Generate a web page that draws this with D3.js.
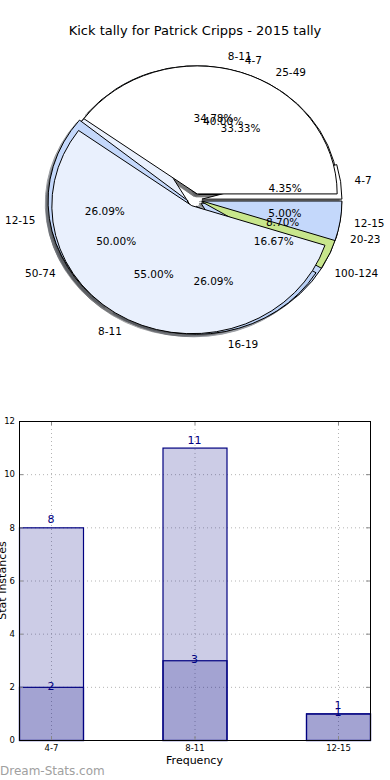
<!DOCTYPE html>
<html>
<head>
<meta charset="utf-8">
<script src="https://cdn.jsdelivr.net/npm/d3@7"></script>
<style>
	body { margin: 0; background: #fff; }
	svg { display: block; font-family: "DejaVu Sans", sans-serif; }
</style>
</head>
<body>
<svg id="chart" width="390" height="780" viewBox="0 0 390 780"></svg>
<script>

const chartTitle = "Kick tally for Patrick Cripps - 2015 tally";

// three pies drawn over each other, bottom first
const pieLabelsC = ["25-49", "50-74", "100-124"];
const pieValuesC = [2, 3, 1];
const pieLabelsA = ["4-7", "8-11", "12-15", "16-19", "20-23"];
const pieValuesA = [1, 8, 6, 6, 2];
const pieLabelsB = ["4-7", "8-11", "12-15"];
const pieValuesB = [8, 11, 1];
const pieColors = ["#ffffff", "#e9f0fd", "#c4d8fb", "#b9d0f6", "#c8e68c"];

const barCategories = ["4-7", "8-11", "12-15"];
const barLight = [8, 11, 1];
const barDark = [2, 3, 1];
const yTicks = [0, 2, 4, 6, 8, 10, 12];

function whenDocumentLoaded(action) {
	if (document.readyState === "loading") {
		document.addEventListener("DOMContentLoaded", action);
	} else {
		action();
	}
}

function drawPies(svg) {
	const cx = 195, cy = 200, rx = 140, ry = 128;
	const explode = 0.05;
	const pies = [
		{labels: pieLabelsC, values: pieValuesC},
		{labels: pieLabelsA, values: pieValuesA},
		{labels: pieLabelsB, values: pieValuesB}
	];

	// matplotlib style: start at 3 o'clock, counter clockwise
	const pie = d3.pie().sort(null)
		.startAngle(Math.PI / 2)
		.endAngle(Math.PI / 2 - 2 * Math.PI);
	const arc = d3.arc().innerRadius(0).outerRadius(100);

	const slices = [];
	pies.forEach(p => {
		const total = d3.sum(p.values);
		pie(p.values).forEach((d, i) => {
			const mid = (d.startAngle + d.endAngle) / 2;
			slices.push({
				arcData: {startAngle: Math.min(d.startAngle, d.endAngle), endAngle: Math.max(d.startAngle, d.endAngle)},
				mid: mid,
				color: pieColors[i % pieColors.length],
				label: p.labels[i],
				pct: d3.format(".2f")(100 * p.values[i] / total) + "%"
			});
		});
	});

	const g = svg.append("g")
		.attr("transform", "translate(" + cx + "," + cy + ") scale(" + rx / 100 + "," + ry / 100 + ")");

	// shadows go under every wedge
	g.selectAll(".shadow")
		.data(slices)
		.enter().append("path")
		.classed("shadow", true)
		.attr("d", d => arc(d.arcData))
		.attr("transform", d => "translate(" + (100 * explode * Math.sin(d.mid) - 2) + "," + (-100 * explode * Math.cos(d.mid) + 2) + ")")
		.attr("vector-effect", "non-scaling-stroke")
		.style("fill", d => { const c = d3.rgb(d.color); return d3.rgb(c.r * 0.3, c.g * 0.3, c.b * 0.3); })
		.style("stroke", d => { const c = d3.rgb(d.color); return d3.rgb(c.r * 0.3, c.g * 0.3, c.b * 0.3); })
		.style("opacity", 0.5);

	g.selectAll(".wedge")
		.data(slices)
		.enter().append("path")
		.classed("wedge", true)
		.attr("d", d => arc(d.arcData))
		.attr("transform", d => "translate(" + 100 * explode * Math.sin(d.mid) + "," + (-100 * explode * Math.cos(d.mid)) + ")")
		.attr("vector-effect", "non-scaling-stroke")
		.style("fill", d => d.color)
		.style("stroke", "#000")
		.style("stroke-width", 1);

	const labelG = svg.append("g").style("font-size", "10.5px").style("fill", "#000");

	labelG.selectAll(".pie-label")
		.data(slices)
		.enter().append("text")
		.classed("pie-label", true)
		.attr("x", d => cx + rx * (explode + 1.1) * Math.sin(d.mid))
		.attr("y", d => cy - ry * (explode + 1.1) * Math.cos(d.mid))
		.attr("dy", "0.35em")
		.attr("text-anchor", d => Math.sin(d.mid) > 0 ? "start" : "end")
		.text(d => d.label);

	labelG.selectAll(".pct-label")
		.data(slices)
		.enter().append("text")
		.classed("pct-label", true)
		.attr("x", d => cx + rx * (explode + 0.6) * Math.sin(d.mid))
		.attr("y", d => cy - ry * (explode + 0.6) * Math.cos(d.mid))
		.attr("dy", "0.35em")
		.attr("text-anchor", "middle")
		.text(d => d.pct);
}

function drawBars(svg) {
	const left = 19, right = 370, top = 421, bottom = 740;
	const navy = "#000080";

	const x = d3.scaleBand()
		.domain(barCategories)
		.range([left, right])
		.paddingInner(0.554)
		.paddingOuter(0);
	const y = d3.scaleLinear()
		.domain([0, 12])
		.range([bottom, top]);

	const grid = svg.append("g")
		.style("stroke", "#b4b4b4")
		.style("stroke-width", 1)
		.style("stroke-dasharray", "1,3");
	grid.selectAll(".hgrid")
		.data(yTicks.slice(1, -1))
		.enter().append("line")
		.attr("x1", left).attr("x2", right)
		.attr("y1", d => y(d) + 0.5).attr("y2", d => y(d) + 0.5);
	grid.selectAll(".vgrid")
		.data(barCategories)
		.enter().append("line")
		.attr("x1", d => x(d) + x.bandwidth() / 2 + 0.5)
		.attr("x2", d => x(d) + x.bandwidth() / 2 + 0.5)
		.attr("y1", top).attr("y2", bottom);

	[barLight, barDark].forEach(series => {
		svg.append("g").selectAll("rect")
			.data(series)
			.enter().append("rect")
			.attr("x", (d, i) => x(barCategories[i]) + 0.5)
			.attr("y", d => y(d) + 0.5)
			.attr("width", x.bandwidth())
			.attr("height", d => y(0) - y(d))
			.style("fill", navy)
			.style("fill-opacity", 0.2)
			.style("stroke", navy)
			.style("stroke-width", 1.2);
	});

	const valG = svg.append("g")
		.style("font-size", "11px")
		.style("fill", navy)
		.attr("text-anchor", "middle");
	valG.selectAll(".light-val")
		.data(barLight)
		.enter().append("text")
		.attr("x", (d, i) => x(barCategories[i]) + x.bandwidth() / 2)
		.attr("y", d => y(d) - 4)
		.text(d => d);
	valG.selectAll(".dark-val")
		.data(barDark)
		.enter().append("text")
		.attr("x", (d, i) => x(barCategories[i]) + x.bandwidth() / 2)
		.attr("y", d => y(d) + 3)
		.text(d => d);

	// axes, ticks inward like the original
	const yAxis = d3.axisLeft(y).tickValues(yTicks).tickSize(-4).tickPadding(4);
	svg.append("g")
		.attr("transform", "translate(" + left + ",0)")
		.call(yAxis)
		.call(a => a.select(".domain").remove())
		.call(a => a.selectAll("line").style("stroke", "#888"))
		.call(a => a.selectAll("text").style("font-size", "8.5px").style("font-family", "DejaVu Sans").style("fill", "#000"));
	svg.append("g")
		.attr("transform", "translate(" + right + ",0)")
		.call(d3.axisRight(y).tickValues(yTicks).tickSize(-4).tickFormat(""))
		.call(a => a.select(".domain").remove())
		.call(a => a.selectAll("line").style("stroke", "#888"));

	const xCenter = d3.scalePoint().domain(barCategories)
		.range([left + x.bandwidth() / 2, right - x.bandwidth() / 2]);
	svg.append("g")
		.attr("transform", "translate(0," + bottom + ")")
		.call(d3.axisBottom(xCenter).tickSize(-4).tickPadding(5))
		.call(a => a.select(".domain").remove())
		.call(a => a.selectAll("line").style("stroke", "#888"))
		.call(a => a.selectAll("text").style("font-size", "8.5px").style("font-family", "DejaVu Sans").style("fill", "#000"));
	svg.append("g")
		.attr("transform", "translate(0," + top + ")")
		.call(d3.axisTop(xCenter).tickSize(-4).tickFormat(""))
		.call(a => a.select(".domain").remove())
		.call(a => a.selectAll("line").style("stroke", "#888"));

	svg.append("rect")
		.attr("x", left + 0.5).attr("y", top + 0.5)
		.attr("width", right - left).attr("height", bottom - top)
		.style("fill", "none")
		.style("stroke", "#000")
		.style("stroke-width", 1);

	svg.append("text")
		.attr("x", (left + right) / 2)
		.attr("y", 764)
		.attr("text-anchor", "middle")
		.style("font-size", "11px")
		.text("Frequency");

	svg.append("text")
		.attr("transform", "translate(6," + (top + bottom) / 2 + ") rotate(-90)")
		.attr("text-anchor", "middle")
		.style("font-size", "11px")
		.text("Stat Instances");
}

whenDocumentLoaded(() => {
	const svg = d3.select("#chart");

	svg.append("text")
		.attr("x", 195)
		.attr("y", 35)
		.attr("text-anchor", "middle")
		.style("font-size", "13px")
		.text(chartTitle);

	drawPies(svg);
	drawBars(svg);

	svg.append("text")
		.attr("x", 0)
		.attr("y", 775)
		.style("font-size", "12px")
		.style("font-family", "DejaVu Sans")
		.style("fill", "#a0a0a0")
		.text("Dream-Stats.com");
});
</script>
</body>
</html>
